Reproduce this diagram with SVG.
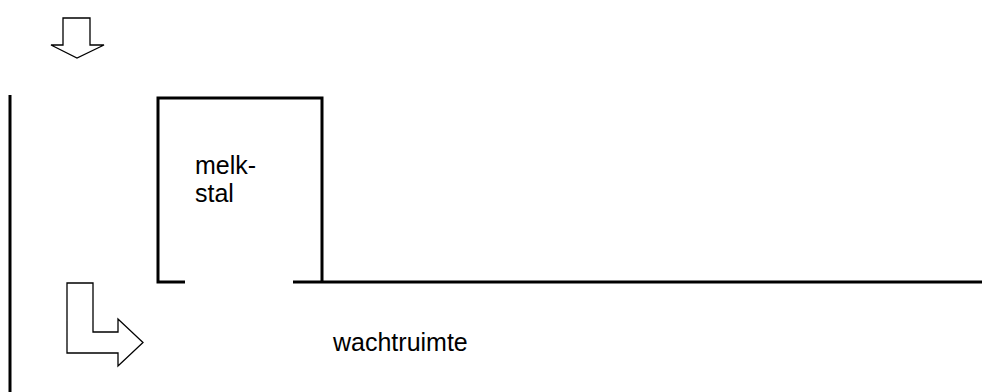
<svg xmlns="http://www.w3.org/2000/svg" width="982" height="392" viewBox="0 0 982 392">
<style>
.wall{fill:none;stroke:#000;stroke-width:3}
.arrow{fill:#fff;stroke:#000;stroke-width:1.3;stroke-linejoin:miter}
.label{font-family:"Liberation Sans",Arial,sans-serif;font-size:25px;fill:#000}
</style>
<rect width="982" height="392" fill="#fff"/>
<g id="walls">
<line class="wall" x1="10" y1="95" x2="10" y2="392"/>
<polyline class="wall" points="185,282 158,282 158,98 322,98 322,282"/>
<line class="wall" x1="293" y1="282" x2="982" y2="282"/>
</g>
<g id="melkstal">
<text class="label" x="195" y="174">melk-</text>
<text class="label" x="195" y="202">stal</text>
</g>
<g id="wachtruimte">
<text class="label" x="333" y="351">wachtruimte</text>
</g>
<g id="connectors">
<polygon class="arrow" points="63,18 90,18 90,45 104,45 77,58 51,45 63,45"/>
<polygon class="arrow" points="67,283 93,283 93,332 118,332 118,319 143,342.5 118,366 118,353 67,353"/>
</g>
</svg>
